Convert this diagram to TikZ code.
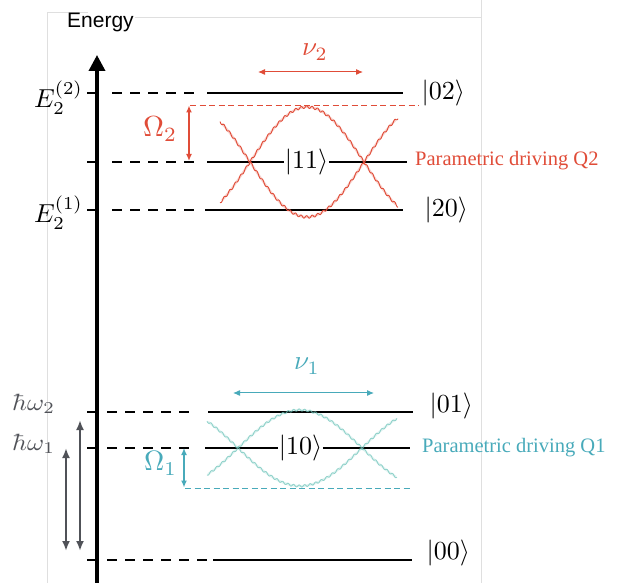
\documentclass[tikz,border=0pt]{standalone}
\usepackage{fontspec}
\newfontfamily\serifT{Liberation Serif}
\newfontfamily\sansA{Liberation Sans}
\usetikzlibrary{arrows.meta}
\definecolor{qred}{RGB}{224,76,56}
\definecolor{qteal}{RGB}{72,170,186}
\definecolor{qmint}{RGB}{110,196,186}
\definecolor{qgray}{RGB}{80,82,88}
\newcommand\mysz[2]{\scalebox{#1}{$#2$}}
\begin{document}
\begin{tikzpicture}[x=1pt,y=-1pt,
  level/.style={line width=2.6pt,black},
  dashlvl/.style={line width=1.8pt,black,dash pattern=on 10pt off 8pt},
  axtick/.style={line width=1.8pt,black},
  ket/.style={inner sep=0.4pt},
  elabel/.style={inner sep=0pt,anchor=base west},
  wlabel/.style={inner sep=0pt,anchor=base west,text=qgray},
  drive/.style={inner sep=0pt,anchor=west,font=\serifT\fontsize{20.5}{23}\selectfont},
  redarr/.style={qred,line width=1.3pt,{Latex[length=7pt,width=6pt]}-{Latex[length=7pt,width=6pt]}},
  tealarr/.style={qteal,line width=1.3pt,{Latex[length=7pt,width=6pt]}-{Latex[length=7pt,width=6pt]}},
  grayarr/.style={qgray,line width=2pt,{Latex[length=10pt,width=8pt]}-{Latex[length=10pt,width=8pt]}},
  frame/.style={gray!25,line width=0.6pt}
]
\useasboundingbox (0,0) rectangle (625,583);
% faint frame lines
\draw[frame] (47,583) -- (47,12) -- (88,12);
\draw[frame] (135,17) -- (481,17);
\draw[frame] (481,0) -- (481,583);

% axis
\coordinate (axb) at (97,583);
\coordinate (axt) at (97,55);
\draw[line width=3.5pt,-{Triangle[length=16pt,width=16pt]}] (axb) -- (axt);
\node[anchor=base west,inner sep=0pt,font=\sansA\fontsize{21}{23}\selectfont] (energy) at (67,28) {Energy};

% ticks
\foreach \yy in {93,162,210,412,448,560} \draw[axtick] (87,\yy) -- (97,\yy);

% upper manifold
\draw[dashlvl] (112,93) -- (196,93);
\draw[level] (207,93) -- (403,93);
\node[ket,anchor=west] (k02) at (421,93) {\mysz{2.6}{|02\rangle}};

\draw[dashlvl] (112,162) -- (196,162);
\node[ket] (k11) at (306.5,162) {\mysz{2.6}{|11\rangle}};
\draw[level] (207,162) -- (k11.west);
\draw[level] (k11.east) -- (407,162);

\draw[dashlvl] (112,210) -- (196,210);
\draw[level] (205,210) -- (403,210);
\node[ket,anchor=west] (k20) at (424,210) {\mysz{2.6}{|20\rangle}};

\node[elabel] (e22) at (34,108) {\mysz{2.6}{E_2^{(2)}}};
\node[elabel] (e21) at (34,223) {\mysz{2.6}{E_2^{(1)}}};

% red drive
\draw[qred,line width=0.8pt,dash pattern=on 6pt off 3.5pt] (190,105.5) -- (419,105.5);
\coordinate (o2t) at (189,105.5);
\coordinate (o2b) at (189,161);
\draw[redarr] (o2t) -- (o2b);
\node[inner sep=0pt,anchor=base west,text=qred] (om2) at (143,137) {\mysz{2.9}{\Omega_2}};
\coordinate (n2l) at (258,72);
\coordinate (n2r) at (363,72);
\draw[redarr,line width=1pt] (n2l) -- (n2r);
\node[inner sep=0pt,anchor=base west,text=qred] (nu2) at (302,56) {\mysz{2.7}{\nu_2}};
\draw[qred,line width=2.2pt,opacity=0.25] plot[domain=222:396,samples=200] (\x,{162-55*cos((\x-307)/228*360)});
\draw[qred,line width=2.2pt,opacity=0.25] plot[domain=222:396,samples=200] (\x,{162+55*cos((\x-307)/228*360)});
\draw[qred,line width=0.9pt] plot[domain=220:398,samples=500] (\x,{162-55*cos((\x-307)/228*360)+1.3*sin((\x-220)*65.45)});
\draw[qred,line width=0.9pt] plot[domain=220:398,samples=500] (\x,{162+55*cos((\x-307)/228*360)+1.3*sin((\x-220)*65.45)});
\node[drive,text=qred] (pd2) at (415,161) {Parametric driving Q2};

% lower manifold
\draw[dashlvl] (107,412) -- (196,412);
\draw[level] (208,412) -- (413,412);
\node[ket,anchor=west] (k01) at (429,406) {\mysz{2.6}{|01\rangle}};

\draw[dashlvl] (107,448) -- (190,448);
\node[ket] (k10) at (300.5,448) {\mysz{2.6}{|10\rangle}};
\draw[level] (205,448) -- (k10.west);
\draw[level] (k10.east) -- (410,448);

\draw[dashlvl] (107,560) -- (208,560);
\draw[level] (213,560) -- (412,560);
\node[ket,anchor=west] (k00) at (426,553) {\mysz{2.6}{|00\rangle}};

\node[wlabel] (hw2) at (12,410) {\scalebox{2.6}[2.35]{$\hbar\omega_2$}};
\node[wlabel] (hw1) at (12,450) {\scalebox{2.6}[2.35]{$\hbar\omega_1$}};
\coordinate (g1t) at (66,448);
\coordinate (g1b) at (66,551);
\coordinate (g2t) at (80,420);
\coordinate (g2b) at (80,551);
\draw[grayarr] (g1t) -- (g1b);
\draw[grayarr] (g2t) -- (g2b);

% teal drive
\draw[qteal,line width=0.8pt,dash pattern=on 6pt off 3.5pt] (185,488) -- (413,488);
\coordinate (o1t) at (184,448);
\coordinate (o1b) at (184,487.5);
\draw[tealarr] (o1t) -- (o1b);
\node[inner sep=0pt,anchor=base west,text=qteal] (om1) at (144,471) {\mysz{2.8}{\Omega_1}};
\coordinate (n1l) at (233,393);
\coordinate (n1r) at (374,393);
\draw[tealarr,line width=1pt] (n1l) -- (n1r);
\node[inner sep=0pt,anchor=base west,text=qteal] (nu1) at (294,370) {\mysz{2.7}{\nu_1}};
\draw[qmint,line width=2.2pt,opacity=0.2] plot[domain=208:396,samples=200] (\x,{448-38*cos((\x-300)/248*360)});
\draw[qmint,line width=2.2pt,opacity=0.2] plot[domain=208:396,samples=200] (\x,{448+38*cos((\x-300)/248*360)});
\draw[qmint,line width=0.9pt,opacity=0.7] plot[domain=207:397,samples=500] (\x,{448-38*cos((\x-300)/248*360)+1.1*sin((\x-207)*65.45)});
\draw[qmint,line width=0.9pt,opacity=0.7] plot[domain=207:397,samples=500] (\x,{448+38*cos((\x-300)/248*360)+1.1*sin((\x-207)*65.45)});
\node[drive,text=qteal] (pd1) at (422,448) {Parametric driving Q1};
\end{tikzpicture}
\end{document}
